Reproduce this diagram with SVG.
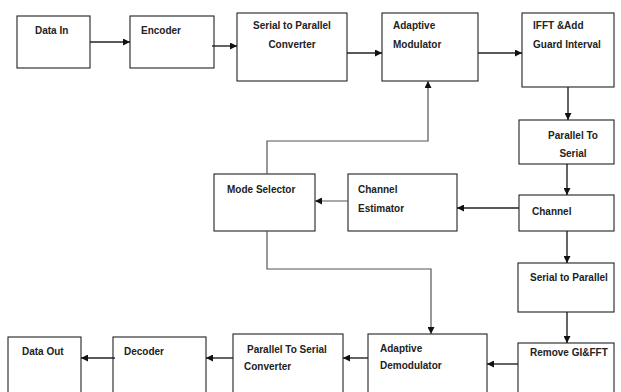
<svg xmlns="http://www.w3.org/2000/svg" width="621" height="392" viewBox="0 0 621 392">
<style>
.box{fill:#fff;stroke:#222;stroke-width:1.1}
.t{font-family:"Liberation Sans",Arial,sans-serif;font-size:10px;font-weight:bold;fill:#222}
.c{text-anchor:middle}
.ln{fill:none;stroke:#222;stroke-width:1.4}
.gl{fill:none;stroke:#555;stroke-width:1.2}
</style>
<defs>
<marker id="ah" viewBox="0 0 8 8" refX="8" refY="4" markerWidth="7" markerHeight="7" markerUnits="userSpaceOnUse" orient="auto">
<path d="M0,0 L8,4 L0,8 z" fill="#111"/>
</marker>
</defs>
<rect width="621" height="392" fill="#fff"/>
<g id="data-in"><rect class="box" x="17" y="16" width="73" height="52"/><text class="t" x="35" y="34">Data In</text></g>
<g id="encoder"><rect class="box" x="130" y="16" width="84" height="52"/><text class="t" x="141" y="34">Encoder</text></g>
<g id="s2p"><rect class="box" x="237" y="13" width="110" height="68"/><text class="t c" x="292" y="29">Serial to Parallel</text><text class="t c" x="292" y="48">Converter</text></g>
<g id="adaptive-modulator"><rect class="box" x="382" y="13" width="96" height="68"/><text class="t" x="393" y="29">Adaptive</text><text class="t" x="393" y="48">Modulator</text></g>
<g id="ifft"><rect class="box" x="522" y="13" width="92" height="74"/><text class="t" x="533" y="29">IFFT &amp;Add</text><text class="t" x="533" y="48">Guard Interval</text></g>
<g id="p2s"><rect class="box" x="519" y="120" width="95" height="44"/><text class="t c" x="573" y="139">Parallel To</text><text class="t c" x="573" y="157">Serial</text></g>
<g id="channel"><rect class="box" x="519" y="195" width="95" height="36"/><text class="t" x="532" y="215">Channel</text></g>
<g id="channel-estimator"><rect class="box" x="348" y="174" width="109" height="57"/><text class="t" x="358" y="193">Channel</text><text class="t" x="358" y="212">Estimator</text></g>
<g id="mode-selector"><rect class="box" x="214" y="174" width="101" height="57"/><text class="t" x="227" y="193">Mode Selector</text></g>
<g id="s2p-rx"><rect class="box" x="518" y="263" width="96" height="49"/><text class="t" x="530" y="281">Serial to Parallel</text></g>
<g id="remove-gi"><rect class="box" x="518" y="343" width="96" height="60"/><text class="t" x="530" y="356">Remove GI&amp;FFT</text></g>
<g id="adaptive-demodulator"><rect class="box" x="368" y="334" width="119" height="70"/><text class="t" x="380" y="352">Adaptive</text><text class="t" x="380" y="369">Demodulator</text></g>
<g id="p2s-converter"><rect class="box" x="233" y="334" width="110" height="70"/><text class="t" x="247" y="353">Parallel To Serial</text><text class="t" x="244" y="370">Converter</text></g>
<g id="decoder"><rect class="box" x="113" y="337" width="93" height="70"/><text class="t" x="124" y="355">Decoder</text></g>
<g id="data-out"><rect class="box" x="8" y="337" width="73" height="70"/><text class="t" x="22" y="355">Data Out</text></g>
<g id="connectors">
<path class="ln" d="M90,42 H130" marker-end="url(#ah)"/>
<path class="ln" d="M212,46 H237" marker-end="url(#ah)"/>
<path class="ln" d="M347,53 H382" marker-end="url(#ah)"/>
<path class="ln" d="M478,53 H522" marker-end="url(#ah)"/>
<path class="ln" d="M568,87 V120" marker-end="url(#ah)"/>
<path class="ln" d="M567,164 V195" marker-end="url(#ah)"/>
<path class="ln" d="M519,208 H457" marker-end="url(#ah)"/>
<path class="gl" d="M348,201 H315" marker-end="url(#ah)"/>
<path class="gl" d="M267,174 V141 H428 V81" marker-end="url(#ah)"/>
<path class="gl" d="M267,231 V269 H431 V334" marker-end="url(#ah)"/>
<path class="ln" d="M567,231 V263" marker-end="url(#ah)"/>
<path class="ln" d="M567,312 V343" marker-end="url(#ah)"/>
<path class="ln" d="M518,364 H487" marker-end="url(#ah)"/>
<path class="ln" d="M368,358 H343" marker-end="url(#ah)"/>
<path class="ln" d="M233,358 H206" marker-end="url(#ah)"/>
<path class="ln" d="M115,358 H81" marker-end="url(#ah)"/>
</g>
</svg>
